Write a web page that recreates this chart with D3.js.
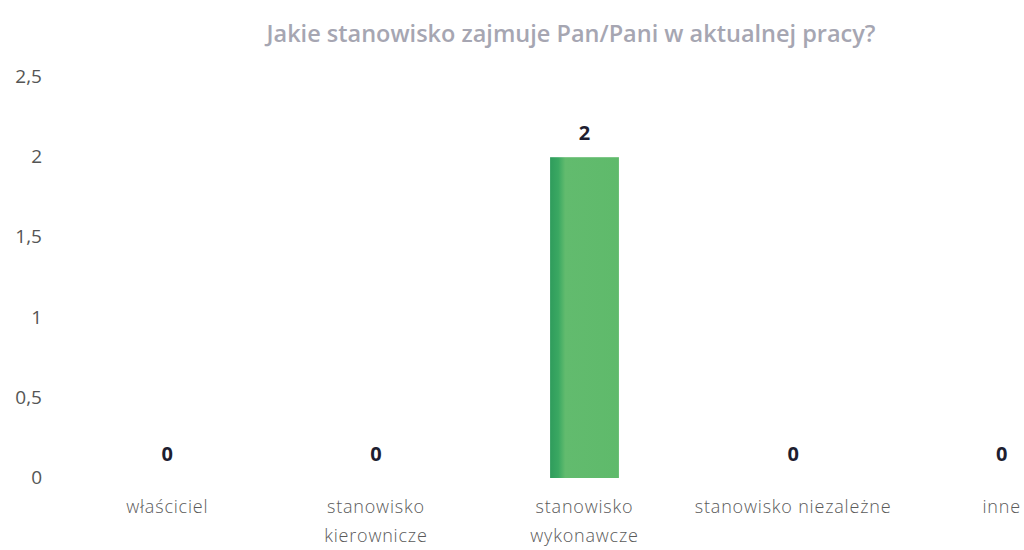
<!DOCTYPE html>
<html>
<head>
<meta charset="utf-8">
<script src="https://cdn.jsdelivr.net/npm/d3@7"></script>
<style>
  body { margin: 0; background: #fff; }
  text { font-family: "Open Sans", "Noto Sans", sans-serif; }
</style>
</head>
<body>
<div id="chart"></div>
<script>
//Data
const categories = ["właściciel", "stanowisko kierownicze", "stanowisko wykonawcze", "stanowisko niezależne", "inne"];
const labelLines = [["właściciel"], ["stanowisko", "kierownicze"], ["stanowisko", "wykonawcze"], ["stanowisko niezależne"], ["inne"]];
const values = [0, 0, 2, 0, 0];
const yTicks = [0, 0.5, 1, 1.5, 2, 2.5];
const title = "Jakie stanowisko zajmuje Pan/Pani w aktualnej pracy?";

//Dim
const width = 1024;
const height = 550;

const svg = d3.select("#chart")
    .append("svg")
    .attr("width", width)
    .attr("height", height);

//Scaling
const xScale = d3.scaleBand()
    .domain(categories)
    .range([63, 1106])
    .paddingInner(0.67)
    .paddingOuter(0.335);

const yScale = d3.scaleLinear()
    .domain([0, 2.5])
    .range([478, 77]);

//Gradient for the bar
const grad = svg.append("defs").append("linearGradient")
    .attr("id", "barGrad")
    .attr("x1", "0%").attr("x2", "100%");
grad.append("stop").attr("offset", "0%").attr("stop-color", "#2f9c5c");
grad.append("stop").attr("offset", "12%").attr("stop-color", "#3aa862");
grad.append("stop").attr("offset", "22%").attr("stop-color", "#62bb6e");
grad.append("stop").attr("offset", "100%").attr("stop-color", "#5fba6b");

//Title
svg.append("text")
    .attr("x", 571)
    .attr("y", 42)
    .attr("text-anchor", "middle")
    .attr("font-size", 23.5)
    .attr("font-weight", 600)
    .attr("fill", "#a6a6b2")
    .text(title);

//Y axis labels
const fmt = d => String(d).replace(".", ",");
svg.selectAll(".ytick")
    .data(yTicks)
    .enter()
    .append("text")
    .attr("class", "ytick")
    .attr("x", 42)
    .attr("y", d => yScale(d) + 6)
    .attr("text-anchor", "end")
    .attr("font-size", 19)
    .attr("fill", "#555")
    .text(fmt);

//Bars
svg.selectAll("rect.bar")
    .data(values)
    .enter()
    .append("rect")
    .attr("class", "bar")
    .attr("x", (d, i) => xScale(categories[i]))
    .attr("y", d => yScale(d))
    .attr("width", xScale.bandwidth())
    .attr("height", d => yScale(0) - yScale(d))
    .attr("fill", "url(#barGrad)");

//Value labels
svg.selectAll(".val")
    .data(values)
    .enter()
    .append("text")
    .attr("class", "val")
    .attr("x", (d, i) => xScale(categories[i]) + xScale.bandwidth() / 2)
    .attr("y", d => yScale(d) - 17)
    .attr("text-anchor", "middle")
    .attr("font-size", 20)
    .attr("font-weight", "bold")
    .attr("fill", "#1e1e30")
    .text(d => d);

//Category labels
const cat = svg.selectAll(".cat")
    .data(labelLines)
    .enter()
    .append("text")
    .attr("class", "cat")
    .attr("x", (d, i) => xScale(categories[i]) + xScale.bandwidth() / 2)
    .attr("y", 513)
    .attr("text-anchor", "middle")
    .attr("font-size", 18)
    .attr("letter-spacing", 0.8)
    .attr("fill", "#5a5a5a")
    .attr("font-weight", 300);

cat.selectAll("tspan")
    .data(d => d)
    .enter()
    .append("tspan")
    .attr("x", function () { return this.parentNode.getAttribute("x"); })
    .attr("dy", (d, i) => i === 0 ? 0 : 29)
    .text(d => d);
</script>
</body>
</html>
